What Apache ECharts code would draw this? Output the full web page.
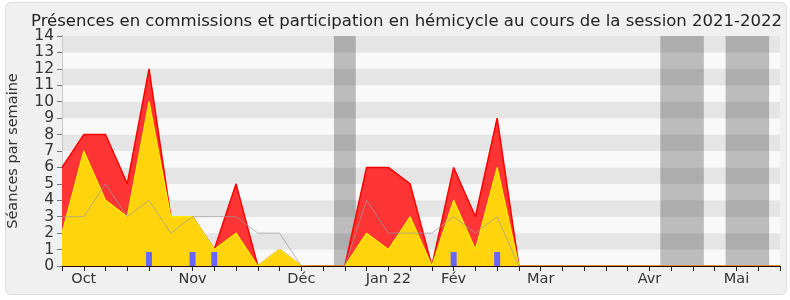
<!DOCTYPE html>
<html>
<head>
<meta charset="utf-8">
<script src="https://cdn.jsdelivr.net/npm/echarts@6/dist/echarts.min.js"></script>
<style>
html,body{margin:0;padding:0;background:#ffffff;}
#frame{position:absolute;left:5px;top:2px;width:780px;height:291px;background:#f0f0f0;border:1px solid #dcdcdc;border-radius:6px;}
#chart{position:absolute;left:0;top:0;width:790px;height:300px;}
</style>
</head>
<body>
<div id="frame"></div>
<div id="chart"></div>
<script>
// week indices (x positions, one per week of the session)
const weeks = [0,1,2,3,4,5,6,7,8,9,10,11,12,13,14,15,16,17,18,19,20,21,22,23,24,25,26,27,28,29,30,31,32,33];
// présences en commissions + hémicycle (red)
const totalPresence = [6,8,8,5,12,3,3,1,5,0,1,0,0,0,6,6,5,0,6,3,9,0,0,0,0,0,0,0,0,0,0,0,0,0];
// participation en hémicycle (yellow)
const hemicycle = [2,7,4,3,10,3,3,1,2,0,1,0,0,0,2,1,3,0,4,1,6,0,0,0,0,0,0,0,0,0,0,0,0,0];
// médiane des députés (grey line)
const median = [3,3,5,3,4,2,3,3,3,2,2,0,0,0,4,2,2,2,3,2,3,0,0,0,0,0,0,0,0,0,0,0,0,0];
// blue markers
const blueWeeks = [4,6,7,18,20];
const blueValues = [0.85,0.85,0.85,0.85,0.85];
// vacation bands [start, end] in weeks
const vacations = [[12.5,13.5],[27.5,29.5],[30.5,32.5]];
// month tick labels
const monthWeeks = [1,6,11,15,18,22,27,31];
const monthLabels = ['Oct','Nov','Déc','Jan 22','Fév','Mar','Avr','Mai'];
const yTicks = [0,1,2,3,4,5,6,7,8,9,10,11,12,13,14];

const FONT = 'DejaVu Sans, sans-serif';
const pairs = (xs, ys) => xs.map((x, i) => [x, ys[i]]);

const chart = echarts.init(document.getElementById('chart'), null, {renderer: 'canvas'});
chart.setOption({
  backgroundColor: 'transparent',
  animation: false,
  title: {
    text: 'Présences en commissions et participation en hémicycle au cours de la session 2021-2022',
    left: 26, top: 8,
    textStyle: {fontFamily: FONT, fontSize: 16.5, fontWeight: 'normal', color: '#222'}
  },
  grid: {left: 62, right: 10, top: 36, bottom: 34, containLabel: false, outerBoundsMode: 'none'},
  xAxis: [{
    type: 'value', min: 0, max: 33, interval: 1, z: 10,
    axisLine: {show: true, lineStyle: {color: '#2a0000', width: 1}},
    axisTick: {show: true, length: 5, lineStyle: {color: '#222'}},
    axisLabel: {
      fontFamily: FONT, fontSize: 14.5, color: '#333', margin: 6,
      formatter: v => { const i = monthWeeks.indexOf(v); return i >= 0 ? monthLabels[i] : ''; }
    },
    splitLine: {show: false}
  }, {
    type: 'value', min: 0, max: 33, interval: 1, position: 'top',
    axisLine: {show: false},
    axisTick: {show: true, inside: true, length: 2, lineStyle: {color: '#222'}},
    axisLabel: {show: false}, splitLine: {show: false}
  }],
  yAxis: [{
    type: 'value', min: 0, max: 14, interval: 1,
    name: 'Séances par semaine', nameLocation: 'middle', nameGap: 41, nameRotate: 90,
    nameTextStyle: {fontFamily: FONT, fontSize: 14.5, color: '#333'},
    axisLine: {show: true, lineStyle: {color: '#000'}},
    axisTick: {show: true, length: 5, lineStyle: {color: '#777'}},
    axisLabel: {fontFamily: FONT, fontSize: 15.5, color: '#333', margin: 8,
      formatter: v => yTicks.includes(v) ? String(v) : ''},
    splitLine: {show: false},
    splitArea: {show: true, areaStyle: {color: ['#f9f9f9', '#e5e5e5']}}
  }, {
    type: 'value', min: 0, max: 14, interval: 1, position: 'right',
    axisLine: {show: true, lineStyle: {color: '#cccccc'}},
    axisTick: {show: false}, axisLabel: {show: false}, splitLine: {show: false}
  }],
  series: [
    {
      type: 'line', data: [], z: 1,
      markArea: {silent: true, itemStyle: {color: 'rgba(0,0,0,0.245)'},
        data: vacations.map(v => [{xAxis: v[0]}, {xAxis: v[1]}])}
    },
    {
      name: 'presence', type: 'line', data: pairs(weeks, totalPresence), z: 2,
      symbol: 'none', lineStyle: {color: '#ff0000', width: 1.5},
      areaStyle: {color: '#ff3535', opacity: 1}
    },
    {
      name: 'hemicycle', type: 'line', data: pairs(weeks, hemicycle), z: 3,
      symbol: 'none', lineStyle: {color: '#ffee00', width: 1.2},
      areaStyle: {color: '#ffd40c', opacity: 1}
    },
    {
      name: 'median', type: 'line', data: pairs(weeks, median), z: 4,
      symbol: 'none', lineStyle: {color: '#999999', width: 1, opacity: 0.7}
    },
    {
      name: 'blue', type: 'bar', data: pairs(blueWeeks, blueValues), z: 5,
      barWidth: 6, itemStyle: {color: '#6666ff'}
    }
  ]
});
</script>
</body>
</html>
